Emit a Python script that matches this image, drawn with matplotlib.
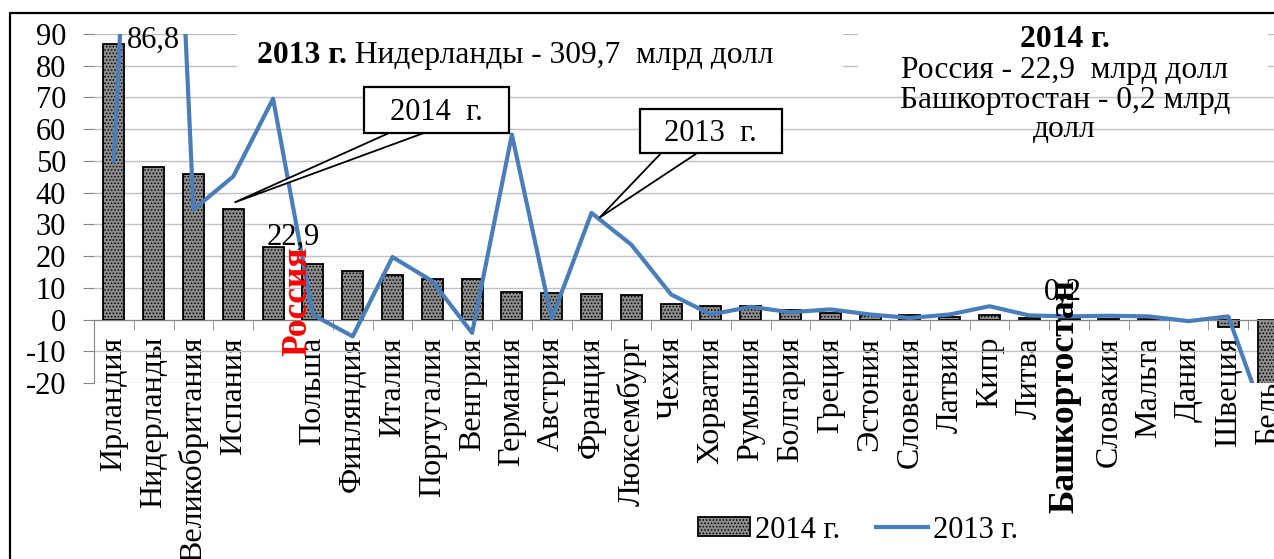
import matplotlib.pyplot as plt
import numpy as np
from matplotlib.patches import Rectangle, Polygon
from matplotlib.lines import Line2D

countries = ['Ирландия', 'Нидерланды', 'Великобритания', 'Испания', 'Россия',
             'Польша', 'Финляндия', 'Италия', 'Португалия', 'Венгрия',
             'Германия', 'Австрия', 'Франция', 'Люксембург', 'Чехия',
             'Хорватия', 'Румыния', 'Болгария', 'Греция', 'Эстония',
             'Словения', 'Латвия', 'Кипр', 'Литва', 'Башкортостан',
             'Словакия', 'Мальта', 'Дания', 'Швеция', 'Бельгия']

# млрд долл
fdi_2014 = [86.8, 48.2, 46.0, 34.7, 22.9, 17.6, 15.2, 14.0, 12.9, 12.7,
            8.6, 8.4, 8.2, 7.6, 5.0, 4.4, 4.3, 2.9, 2.1, 1.5,
            1.3, 0.8, 1.3, 0.5, 0.2, 0.1, 0.1, -0.3, -2.4, -26.0]
fdi_2013 = [49.9, 309.7, 34.7, 45.1, 69.6, 1.5, -5.3, 19.7, 12.1, -4.2,
            58.3, 0.2, 33.6, 23.6, 7.9, 1.6, 4.0, 2.3, 3.2, 1.6,
            0.5, 1.6, 4.2, 1.3, 1.0, 1.2, 1.0, -0.5, 1.0, -34.0]

yticks = list(range(-20, 91, 10))

plt.rcParams['font.family'] = ['Liberation Serif', 'DejaVu Serif']
plt.rcParams['hatch.linewidth'] = 0.7
FS = 22
FS_HEAD = 22.7

fig = plt.figure(figsize=(12.74, 5.59), dpi=100)
ax = fig.add_axes([94 / 1274, 1 - 383 / 559, 1194 / 1274, 349 / 559])

# spines first: set_position resets the ticks
for s in ['top', 'right']:
    ax.spines[s].set_visible(False)
ax.spines['bottom'].set_position(('data', 0))
ax.spines['bottom'].set_color('#868686')
ax.spines['left'].set_color('#868686')

x = np.arange(len(countries))
bars = ax.bar(x, fdi_2014, width=0.53, facecolor='#8c8c8c', edgecolor='black',
              linewidth=1.3, hatch='.....', label='2014 г.', zorder=2)
line, = ax.plot(x, fdi_2013, color='#4a7ebb', lw=3, label='2013 г.', zorder=3)

ax.set_xlim(-0.5, len(countries) - 0.5)
ax.set_ylim(-20, 90)
ax.spines['left'].set_bounds(-20, 0)
ax.set_yticks(yticks)
ax.set_yticklabels([str(v) for v in yticks])
ax.grid(axis='y', color='#c0c0c0', lw=1)
ax.set_axisbelow(True)

# category labels, Russia and Bashkortostan are drawn separately
special = {'Россия': dict(color='red', dx=18, dy=13),
           'Башкортостан': dict(color='black', dx=-3, dy=-55)}
ax.set_xticks(x)
ax.set_xticklabels(['' if c in special else c for c in countries])
ax.set_xticks(x[:-1] + 0.5, minor=True)
ax.tick_params(axis='x', which='major', length=0, pad=12.5, labelrotation=90,
               labelsize=23)
ax.tick_params(axis='x', which='minor', length=7, color='#868686', direction='out')
ax.tick_params(axis='y', length=8, color='#868686', pad=12, labelsize=FS)

for c, st in special.items():
    i = countries.index(c)
    ax.annotate(c, xy=(i, 0), xytext=(st['dx'], st['dy']), textcoords='offset points',
                rotation=90, ha='center', va='center', fontsize=25.5,
                fontweight='bold', color=st['color'], zorder=6)

# data labels
ax.annotate('86,8', xy=(0, fdi_2014[0]), xytext=(28.3, -2.5), textcoords='offset points',
            ha='center', va='baseline', fontsize=FS, zorder=5)
ax.annotate('22,9', xy=(4, fdi_2014[4]), xytext=(14.8, 1.7), textcoords='offset points',
            ha='center', va='baseline', fontsize=FS, zorder=5)
ax.annotate('0,2', xy=(24, fdi_2014[24]), xytext=(-4.6, 14), textcoords='offset points',
            ha='center', va='baseline', fontsize=FS, zorder=5)

# white backgrounds behind the header notes
ax.add_patch(Rectangle((0.12, 0.868), 0.507, 0.2, transform=ax.transAxes,
                       fc='white', ec='none', zorder=1, clip_on=False))
ax.add_patch(Rectangle((0.64, 0.854), 0.343, 0.2, transform=ax.transAxes,
                       fc='white', ec='none', zorder=1, clip_on=False))

t1 = ax.text(0.1365, 0.917, '2013 г.', transform=ax.transAxes, fontsize=FS_HEAD,
             fontweight='bold', ha='left', va='baseline', zorder=5)
ax.annotate(' Нидерланды - 309,7  млрд долл', xy=(1, 0), xycoords=t1,
            ha='left', va='bottom', fontsize=FS_HEAD, zorder=5)

ax.text(0.813, 0.963, '2014 г.', transform=ax.transAxes, fontsize=FS_HEAD,
        fontweight='bold', ha='center', va='baseline', zorder=5)
for txt, yb in [('Россия - 22,9  млрд долл', 0.874),
                ('Башкортостан - 0,2 млрд', 0.788),
                ('долл', 0.705)]:
    ax.text(0.813, yb, txt, transform=ax.transAxes, fontsize=FS_HEAD,
            ha='center', va='baseline', zorder=5)

# callouts: box (x0, x1, y0, y1), wedge base (xa, xb), tip
callouts = [('2014  г.', (6.28, 9.92, 58.9, 73.4), (6.93, 7.81), (3.03, 36.9)),
            ('2013  г.', (13.21, 16.78, 52.6, 66.5), (13.76, 14.67), (12.2, 32.1))]
for txt, (x0, x1, y0, y1), (xa, xb), tip in callouts:
    ax.add_patch(Polygon([(xa, y0), (xb, y0), tip], closed=True, fc='white',
                         ec='black', lw=1.3, zorder=5.5))
    ax.add_patch(Rectangle((x0, y0), x1 - x0, y1 - y0, fc='white', ec='black',
                           lw=1.6, zorder=5.6))
    ax.text((x0 + x1) / 2, (y0 + y1) / 2 - 0.8, txt, ha='center', va='center',
            fontsize=FS, zorder=5.7)

fig.legend(handles=[bars, line], loc='center', bbox_to_anchor=(858 / 1274, 1 - 530 / 559),
           ncol=2, frameon=False, fontsize=FS, handlelength=1.7, handleheight=0.55,
           handletextpad=0.15, columnspacing=1.2)

# frame of the figure (top and left edges visible)
fig.add_artist(Line2D([10 / 1274, 10 / 1274, 1], [0, 1 - 12.5 / 559, 1 - 12.5 / 559],
                      transform=fig.transFigure, color='black', lw=1.6))

fig.savefig('out.png', dpi=100)
